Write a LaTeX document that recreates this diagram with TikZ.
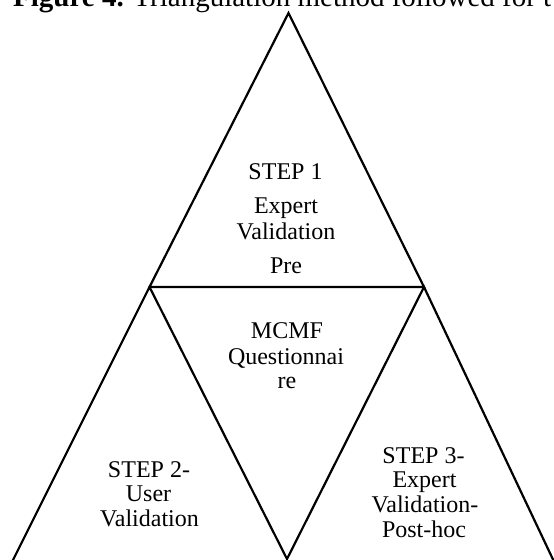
\documentclass[tikz,border=0pt]{standalone}
\usepackage{fontspec}
\setmainfont{Liberation Serif}
\begin{document}
\begin{tikzpicture}[x=1pt,y=-1pt,
  edge/.style={line width=2.2pt, line join=miter},
  lbl/.style={anchor=base, inner sep=0pt, font=\fontsize{24}{26}\selectfont},
  captext/.style={anchor=base west, inner sep=0pt, font=\fontsize{29}{32}\selectfont}]
\useasboundingbox (0,0) rectangle (554,560);
\clip (0,0) rectangle (554,560);

% caption line, cut by the top edge
\node[captext] (caption) at (13,6.5) {\textbf{Figure 4.} Triangulation method followed for t};

% corner points of the four triangles
\coordinate (A)  at (288.5,13);
\coordinate (L)  at (149.5,287);
\coordinate (R)  at (424,287);
\coordinate (BL) at (12,562);
\coordinate (V)  at (287,559);
\coordinate (BR) at (558,570);

% top triangle, then the two lower ones with the inverted middle one between
\draw[edge] (L) -- (A) -- (R) -- cycle;
\draw[edge] (BL) -- (L) -- (V) -- (R) -- (BR);

% step 1
\node[lbl] (s1a) at (285.5,179) {STEP 1};
\node[lbl] (s1b) at (286,213) {Expert};
\node[lbl] (s1c) at (286,239) {Validation};
\node[lbl] (s1d) at (286,273) {Pre};

% questionnaire
\node[lbl] (qa) at (287,338) {MCMF};
\node[lbl] (qb) at (286,364) {Questionnai};
\node[lbl] (qc) at (287,388) {re};

% step 2
\node[lbl] (s2a) at (149,477) {STEP 2-};
\node[lbl] (s2b) at (148.5,501) {User};
\node[lbl] (s2c) at (149.5,526) {Validation};

% step 3
\node[lbl] (s3a) at (423.5,463) {STEP 3-};
\node[lbl] (s3b) at (424.5,487) {Expert};
\node[lbl] (s3c) at (425,512) {Validation-};
\node[lbl] (s3d) at (424,537) {Post-hoc};
\end{tikzpicture}
\end{document}
